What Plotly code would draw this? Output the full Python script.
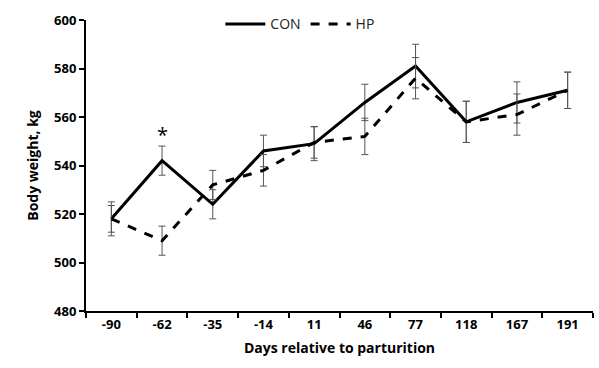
import plotly.graph_objects as go

days = ["-90", "-62", "-35", "-14", "11", "46", "77", "118", "167", "191"]
con = [518, 542, 524, 546, 549, 566, 581, 558, 566, 571]
con_se = [7, 6, 6, 6.5, 7, 7.5, 9, 8.5, 8.5, 7.5]
hp = [518, 509, 532, 538, 549.5, 552, 576, 558, 561, 571]
hp_se = [5.5, 6, 6, 6.5, 6.5, 7.5, 8.5, 8.5, 8.5, 7.5]
yticks = [480, 500, 520, 540, 560, 580, 600]
star_day = "-62"

font = "Open Sans"
err_style = dict(type="data", visible=True, color="#555555", thickness=1, width=3.5)

fig = go.Figure()
fig.add_trace(go.Scatter(
    x=days, y=con, name="CON", mode="lines",
    line=dict(color="black", width=3),
    error_y=dict(array=con_se, **err_style),
))
fig.add_trace(go.Scatter(
    x=days, y=hp, name="HP", mode="lines",
    line=dict(color="black", width=3, dash="dash"),
    error_y=dict(array=hp_se, **err_style),
))

i_star = days.index(star_day)
fig.add_annotation(x=i_star, xref="x", y=con[i_star] + con_se[i_star], yref="y",
                   text="*", showarrow=False, yanchor="bottom", yshift=-4,
                   font=dict(family=font, size=20, color="black"))

fig.update_layout(
    width=599, height=368,
    margin=dict(l=86, r=6, t=20, b=57),
    paper_bgcolor="white", plot_bgcolor="white",
    font=dict(family=font, color="black"),
    showlegend=True,
    legend=dict(orientation="h", x=0.265, y=0.985, xanchor="left", yanchor="middle",
                bgcolor="rgba(0,0,0,0)", font=dict(family=font, size=14, color="#222"),
                itemwidth=40),
    xaxis=dict(
        type="category", range=[-0.5, 9.5],
        showline=True, linecolor="black", linewidth=2,
        ticks="outside", tickson="boundaries", ticklen=5, tickwidth=2, tickcolor="black",
        showgrid=False, zeroline=False,
        tickfont=dict(family=font, size=13, color="black", weight="bold"),
        title=dict(text="<b>Days relative to parturition</b>",
                   font=dict(family=font, size=14, color="black"), standoff=12),
    ),
    yaxis=dict(
        range=[480, 600], tickvals=yticks,
        showline=True, linecolor="black", linewidth=2,
        ticks="outside", ticklen=5, tickwidth=2, tickcolor="black",
        showgrid=False, zeroline=False,
        tickfont=dict(family=font, size=13, color="black", weight="bold"),
        title=dict(text="<b>Body weight, kg</b>",
                   font=dict(family=font, size=14, color="black"), standoff=12),
    ),
)

fig.write_html("out.html")
